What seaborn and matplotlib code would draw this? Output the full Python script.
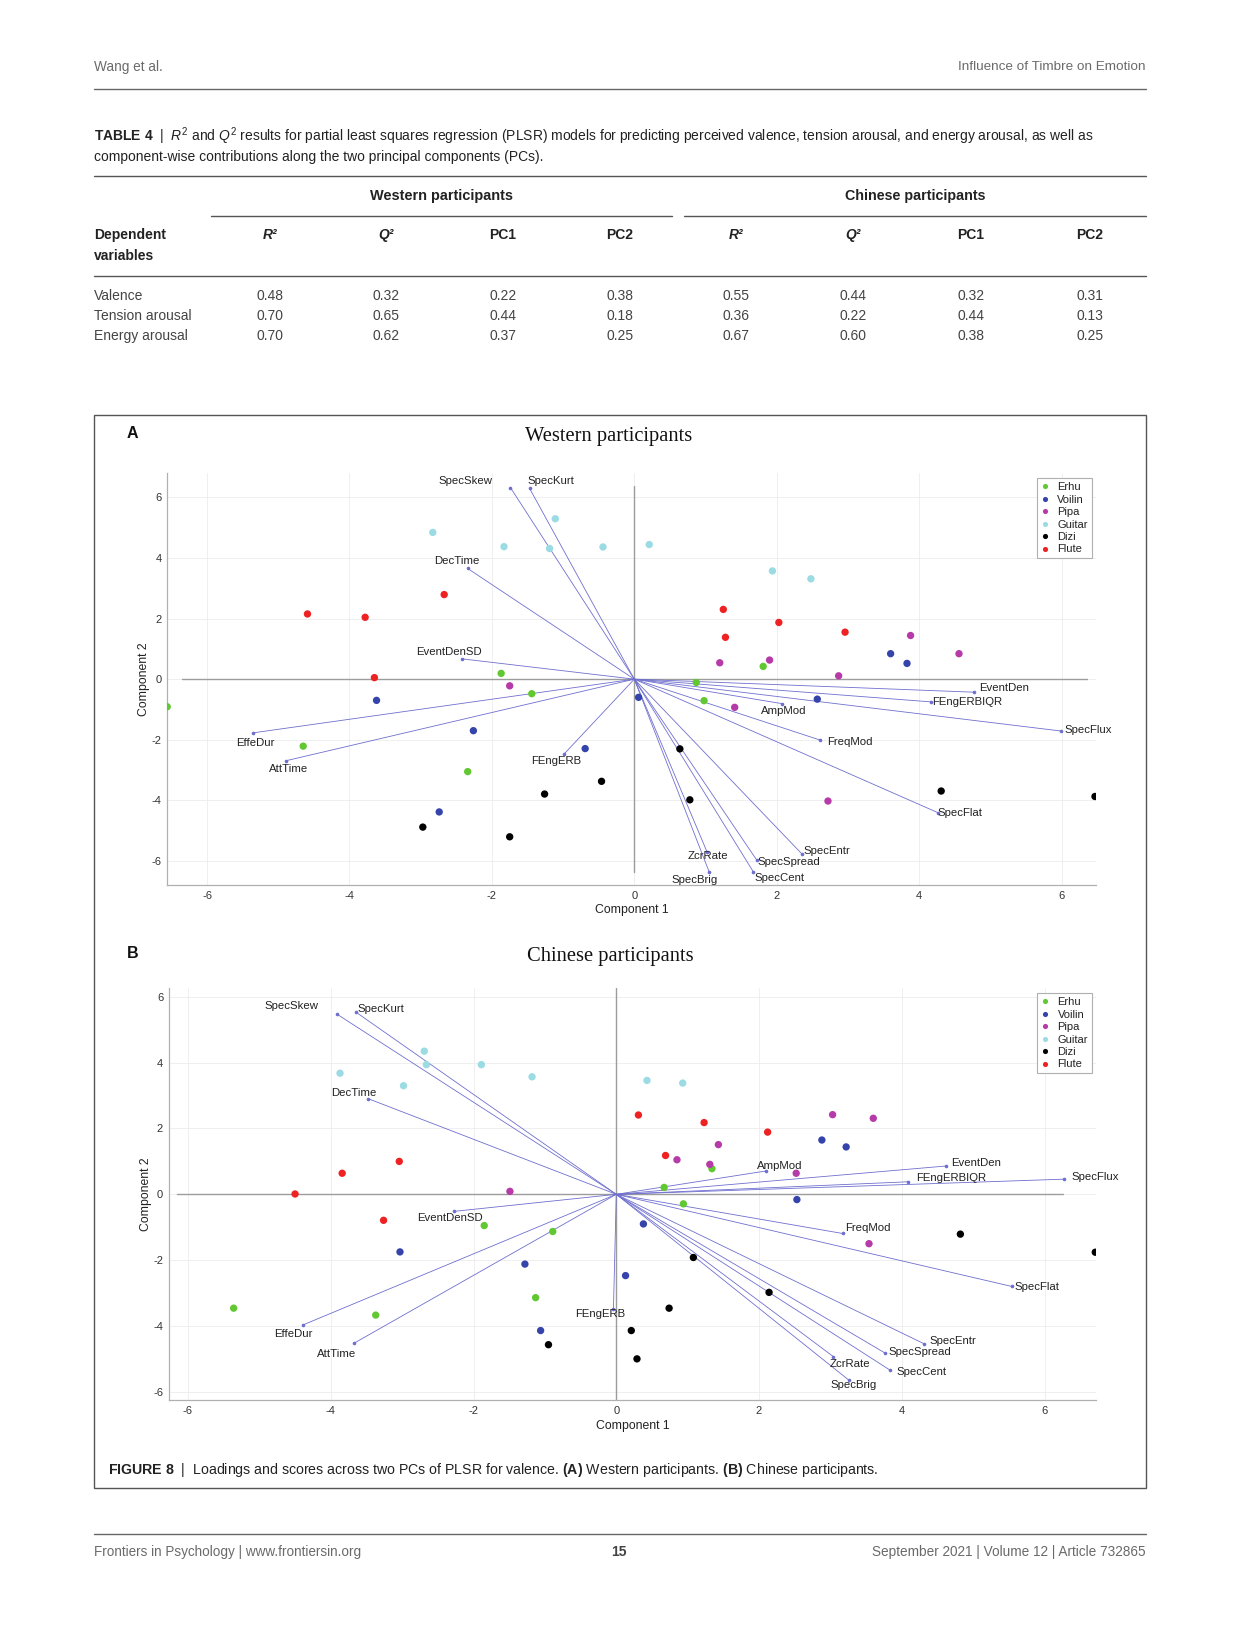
import numpy as np
import pandas as pd
import matplotlib
matplotlib.use("Agg")
import matplotlib.pyplot as plt
from matplotlib.lines import Line2D
from matplotlib.patches import Rectangle
import seaborn as sns

# ---------------- data ----------------
instruments = ["Erhu", "Voilin", "Pipa", "Guitar", "Dizi", "Flute"]
inst_colors = ["#62c832", "#3544aa", "#b63aa8", "#9adbe4", "#000000", "#ee2222"]

# Western participants: PLSR scores
west_erhu_x = [-6.56, -1.87, -1.44, -4.65, -2.34, 1.81, 0.87, 0.98]
west_erhu_y = [-0.91, 0.19, -0.48, -2.21, -3.05, 0.42, -0.11, -0.71]
west_voilin_x = [-3.62, -2.26, -2.74, -0.69, 0.06, 3.60, 3.83, 2.57]
west_voilin_y = [-0.70, -1.70, -4.38, -2.29, -0.60, 0.84, 0.52, -0.66]
west_pipa_x = [-1.75, 1.20, 1.90, 2.87, 3.88, 4.56, 1.41, 2.72]
west_pipa_y = [-0.22, 0.54, 0.63, 0.11, 1.44, 0.84, -0.93, -4.02]
west_guitar_x = [-2.83, -1.83, -1.11, -1.19, -0.44, 0.21, 1.94, 2.48]
west_guitar_y = [4.84, 4.37, 5.29, 4.31, 4.36, 4.44, 3.57, 3.31]
west_dizi_x = [-2.97, -1.75, -1.26, -0.46, 0.64, 0.78, 4.31, 6.47]
west_dizi_y = [-4.88, -5.20, -3.79, -3.37, -2.30, -3.98, -3.69, -3.87]
west_flute_x = [-4.59, -3.78, -2.67, -3.65, 1.25, 1.28, 2.03, 2.96]
west_flute_y = [2.15, 2.04, 2.79, 0.05, 2.30, 1.38, 1.87, 1.55]

# Chinese participants: PLSR scores
cn_erhu_x = [-5.36, -3.37, -1.85, -0.89, -1.13, 1.34, 0.67, 0.94]
cn_erhu_y = [-3.46, -3.67, -0.95, -1.13, -3.14, 0.78, 0.21, -0.29]
cn_voilin_x = [-3.03, -1.28, -1.06, 0.13, 0.38, 2.53, 2.88, 3.22]
cn_voilin_y = [-1.75, -2.12, -4.14, -2.47, -0.90, -0.16, 1.65, 1.44]
cn_pipa_x = [-1.49, 0.85, 1.31, 1.43, 3.03, 3.60, 2.52, 3.54]
cn_pipa_y = [0.09, 1.05, 0.91, 1.51, 2.42, 2.31, 0.64, -1.50]
cn_guitar_x = [-2.69, -2.66, -3.87, -2.98, -1.89, -1.18, 0.43, 0.93]
cn_guitar_y = [4.35, 3.94, 3.68, 3.30, 3.94, 3.57, 3.46, 3.38]
cn_dizi_x = [-0.95, 0.21, 0.29, 0.74, 1.08, 2.14, 4.82, 6.71]
cn_dizi_y = [-4.57, -4.14, -5.00, -3.46, -1.92, -2.98, -1.21, -1.76]
cn_flute_x = [-4.50, -3.84, -3.04, -3.26, 0.31, 1.23, 2.12, 0.69]
cn_flute_y = [0.01, 0.64, 1.00, -0.79, 2.41, 2.18, 1.89, 1.18]

# loadings (feature vectors)
features = ["SpecSkew", "SpecKurt", "DecTime", "EventDenSD", "EffeDur", "AttTime",
            "FEngERB", "EventDen", "FEngERBIQR", "SpecFlux", "AmpMod", "FreqMod",
            "SpecFlat", "SpecEntr", "SpecSpread", "SpecCent", "ZcrRate", "SpecBrig"]
west_load_x = [-1.74, -1.47, -2.34, -2.42, -5.35, -4.89, -0.99, 4.77, 4.17, 5.99,
               2.08, 2.61, 4.26, 2.36, 1.72, 1.67, 1.02, 1.05]
west_load_y = [6.32, 6.29, 3.65, 0.67, -1.77, -2.69, -2.48, -0.43, -0.75, -1.71,
               -0.81, -2.01, -4.40, -5.78, -5.97, -6.35, -5.69, -6.35]
west_label_x = [-2.37, -1.17, -2.49, -2.60, -5.32, -4.86, -1.10, 5.20, 4.68, 6.38,
                2.10, 3.03, 4.58, 2.70, 2.17, 2.04, 1.03, 0.85]
west_label_y = [6.55, 6.52, 3.91, 0.88, -2.11, -2.97, -2.69, -0.30, -0.76, -1.68,
                -1.04, -2.08, -4.43, -5.67, -6.02, -6.55, -5.84, -6.63]

cn_load_x = [-3.91, -3.65, -3.48, -2.28, -4.39, -3.67, -0.04, 4.62, 4.08, 6.27,
             2.10, 3.17, 5.54, 4.31, 3.77, 3.84, 3.04, 3.26]
cn_load_y = [5.47, 5.54, 2.91, -0.52, -3.97, -4.52, -3.49, 0.86, 0.38, 0.46,
             0.71, -1.19, -2.80, -4.54, -4.83, -5.35, -4.93, -5.65]
cn_label_x = [-4.55, -3.30, -3.68, -2.33, -4.52, -3.92, -0.22, 5.04, 4.69, 6.71,
              2.29, 3.52, 5.90, 4.71, 4.25, 4.28, 3.28, 3.32]
cn_label_y = [5.72, 5.63, 3.07, -0.72, -4.24, -4.85, -3.64, 0.96, 0.50, 0.53,
              0.87, -1.03, -2.83, -4.45, -4.80, -5.41, -5.15, -5.79]

# Table 4 values
table_rows = ["Valence", "Tension arousal", "Energy arousal"]
table_cols = ["R²", "Q²", "PC1", "PC2", "R²", "Q²", "PC1", "PC2"]
west_r2 = ["0.48", "0.70", "0.70"]
west_q2 = ["0.32", "0.65", "0.62"]
west_pc1 = ["0.22", "0.44", "0.37"]
west_pc2 = ["0.38", "0.18", "0.25"]
cn_r2 = ["0.55", "0.36", "0.67"]
cn_q2 = ["0.44", "0.22", "0.60"]
cn_pc1 = ["0.32", "0.44", "0.38"]
cn_pc2 = ["0.31", "0.13", "0.25"]

ticks = [-6, -4, -2, 0, 2, 4, 6]

# ---------------- style ----------------
W, H = 1241, 1625
sns.set_theme(style="white")
plt.rcParams["font.family"] = ["Liberation Sans", "DejaVu Sans"]
plt.rcParams["axes.unicode_minus"] = False
plt.rcParams["mathtext.fontset"] = "custom"
plt.rcParams["mathtext.rm"] = "Liberation Sans"
plt.rcParams["mathtext.it"] = "Liberation Sans:italic"
plt.rcParams["mathtext.bf"] = "Liberation Sans:bold"

fig = plt.figure(figsize=(W / 100, H / 100), dpi=100)
fig.patch.set_facecolor("white")
renderer = fig.canvas.get_renderer()


def put(x, y, s, size=10, target=None, **kw):
    kw.setdefault("va", "center")
    t = fig.text(x / W, 1 - y / H, s, fontsize=size, **kw)
    if target:
        w = t.get_window_extent(renderer).width
        t.set_fontsize(size * target / w)
    return t


def hline(y, x0, x1, lw=1.0, color="#555555"):
    fig.add_artist(Line2D([x0 / W, x1 / W], [1 - y / H, 1 - y / H],
                          transform=fig.transFigure, lw=lw, color=color))


TXT = "#444444"
# ---------------- page header ----------------
put(94.4, 67.4, "Wang et al.", target=68.4, color="#6a6a6a")
put(1146, 67.4, "Influence of Timbre on Emotion", target=187.7, color="#6a6a6a", ha="right")
hline(89.2, 94.4, 1146, lw=1.0, color="#666666")

# ---------------- table ----------------
cap1 = (r"$\mathbf{TABLE\ 4}$  |  $\mathit{R}^{2}$ and $\mathit{Q}^{2}$ results for partial least squares "
        "regression (PLSR) models for predicting perceived valence, tension arousal, and energy arousal, as well as")
t1 = put(94.4, 135.8, cap1, target=999.7, color="#222222")
put(94.4, 156.6, "component-wise contributions along the two principal components (PCs).",
    size=t1.get_fontsize(), color="#222222")
hline(176.3, 94.4, 1146, lw=1.0)
hline(215.7, 211.5, 672, lw=1.0)
hline(215.7, 684.4, 1146, lw=1.0)

tmp = put(94.4, 316.3, table_rows[1], target=97.5, color=TXT)
fs_tab = tmp.get_fontsize()
put(441.8, 196, "Western participants", target=143, fontweight="bold", ha="center", color="#222222")
put(915.2, 196, "Chinese participants", target=140, fontweight="bold", ha="center", color="#222222")
put(94.4, 235.4, "Dependent", size=fs_tab, fontweight="bold", color="#222222")
put(94.4, 256.1, "variables", size=fs_tab, fontweight="bold", color="#222222")
col_x = [269.6, 385.8, 503, 620, 736.3, 853.5, 970.6, 1090]
for cx, cname in zip(col_x, table_cols):
    italic = "²" in cname
    put(cx, 235.4, cname, size=fs_tab, fontweight="bold", ha="center",
        style="italic" if italic else "normal", color="#222222")
hline(275.8, 94.4, 1146, lw=1.0)
row_y = [295.5, 316.3, 336.0]
columns = [west_r2, west_q2, west_pc1, west_pc2, cn_r2, cn_q2, cn_pc1, cn_pc2]
for i, (ry, rname) in enumerate(zip(row_y, table_rows)):
    if i != 1:
        put(94.4, ry, rname, size=fs_tab, color=TXT)
    for cx, col in zip(col_x, columns):
        put(cx, ry, col[i], size=fs_tab, ha="center", color=TXT)

# ---------------- figure frame ----------------
fig.add_artist(Rectangle((94.4 / W, 1 - 1488 / H), (1146 - 94.4) / W, (1488 - 414.8) / H,
                         transform=fig.transFigure, fill=False, edgecolor="#555555", lw=1.0))

LC = "#6f6fcf"


def draw_panel(ax, sx, sy, lx, ly, tx, ty, xlim, ylim, hspan, vspan):
    ax.set_facecolor("white")
    ax.set_xlim(xlim)
    ax.set_ylim(ylim)
    ax.set_xticks(ticks)
    ax.set_yticks(ticks)
    ax.grid(True, color="#ededed", lw=0.6)
    ax.set_axisbelow(True)
    for s in ["top", "right"]:
        ax.spines[s].set_visible(False)
    for s in ["left", "bottom"]:
        ax.spines[s].set_color("#b0b0b0")
        ax.spines[s].set_linewidth(0.9)
    ax.tick_params(direction="in", length=6.5, width=0.9, color="#c4c4c4",
                   labelsize=8, labelcolor="#333333", pad=4)
    # axis lines through origin
    ax.plot(hspan, [0, 0], color="#9c9c9c", lw=1.0, zorder=1)
    ax.plot([0, 0], vspan, color="#9c9c9c", lw=1.0, zorder=1)
    # loadings
    for name, x, y, xt, yt in zip(features, lx, ly, tx, ty):
        ax.plot([0, x], [0, y], color=LC, lw=0.6, zorder=2)
        ax.plot([x], [y], "o", ms=1.6, color=LC, zorder=2)
        ax.text(xt, yt, name, ha="center", va="center", fontsize=8.2, color="#222222", zorder=4)
    # scores
    df = pd.DataFrame({
        "x": sum(sx, []),
        "y": sum(sy, []),
        "Instrument": sum([[n] * len(v) for n, v in zip(instruments, sx)], []),
    })
    sns.scatterplot(data=df, x="x", y="y", hue="Instrument", hue_order=instruments,
                    palette=dict(zip(instruments, inst_colors)), s=28, linewidth=0,
                    ax=ax, zorder=3, legend=True)
    h, l = ax.get_legend_handles_labels()
    hh = ax.get_position().height * H
    ww = ax.get_position().width * W
    leg = ax.legend(h, l, loc="upper right", bbox_to_anchor=(1 - 4 / ww, 1 - 5 / hh),
                    borderaxespad=0, fontsize=8.0, frameon=True, fancybox=False,
                    edgecolor="#b0b0b0", framealpha=1, handlelength=0.7, handletextpad=0.8,
                    labelspacing=0.22, borderpad=0.35, markerscale=0.7)
    leg.get_frame().set_linewidth(0.8)
    for txt in leg.get_texts():
        txt.set_color("#222222")
    ax.set_xlabel("Component 1", fontsize=8.8, color="#222222")
    ax.set_ylabel("Component 2", fontsize=8.8, color="#222222")
    ax.xaxis.set_label_coords(0.5, -25.5 / hh)
    ax.xaxis.label.set_va("center")
    ax.yaxis.set_label_coords(-23 / ww, 0.5)
    ax.yaxis.label.set_va("center")


axA = fig.add_axes([167.2 / W, 1 - 885 / H, (1095.7 - 167.2) / W, (885 - 473.3) / H])
draw_panel(axA,
           [west_erhu_x, west_voilin_x, west_pipa_x, west_guitar_x, west_dizi_x, west_flute_x],
           [west_erhu_y, west_voilin_y, west_pipa_y, west_guitar_y, west_dizi_y, west_flute_y],
           west_load_x, west_load_y, west_label_x, west_label_y,
           (-6.56, 6.48), (-6.79, 6.79), [-6.35, 6.36], [-6.36, 6.36])

axB = fig.add_axes([168.7 / W, 1 - 1400 / H, (1096 - 168.7) / W, (1400 - 988.3) / H])
draw_panel(axB,
           [cn_erhu_x, cn_voilin_x, cn_pipa_x, cn_guitar_x, cn_dizi_x, cn_flute_x],
           [cn_erhu_y, cn_voilin_y, cn_pipa_y, cn_guitar_y, cn_dizi_y, cn_flute_y],
           cn_load_x, cn_load_y, cn_label_x, cn_label_y,
           (-6.27, 6.72), (-6.25, 6.26), [-6.15, 6.26], [-6.26, 6.26])

# panel letters and titles
put(126.8, 433.5, "A", size=11.5, fontweight="bold", color="#111111")
put(608.7, 436.6, "Western participants", size=14.8, ha="center", color="#111111",
    family=["Liberation Serif", "DejaVu Serif"])
put(126.8, 953, "B", size=11.5, fontweight="bold", color="#111111")
put(610.8, 956, "Chinese participants", size=14.8, ha="center", color="#111111",
    family=["Liberation Serif", "DejaVu Serif"])

# figure caption
cap = (r"$\mathbf{FIGURE\ 8}$  |  Loadings and scores across two PCs of PLSR for valence. "
       r"$\mathbf{(A)}$ Western participants. $\mathbf{(B)}$ Chinese participants.")
put(107.8, 1470, cap, target=768.4, color="#222222")

# footer
hline(1533.7, 94.4, 1146, lw=1.0, color="#666666")
put(94.4, 1552.4, "Frontiers in Psychology | www.frontiersin.org", target=267.5, color="#6a6a6a")
put(619, 1552.4, "15", size=10, fontweight="bold", ha="center", color="#444444")
put(1146, 1552.4, "September 2021 | Volume 12 | Article 732865", target=274.8, ha="right", color="#6a6a6a")

fig.savefig("out.png", dpi=100, facecolor="white")
